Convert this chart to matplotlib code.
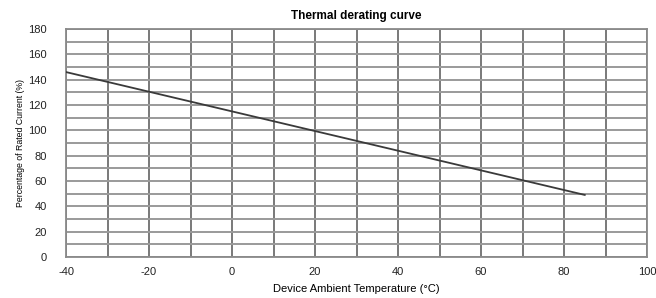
import matplotlib.pyplot as plt
import numpy as np

plt.rcParams['font.family'] = ['Liberation Sans', 'DejaVu Sans']
plt.rcParams['axes.unicode_minus'] = False

# thermal derating data
temp = [-40, 85]
percent = [146, 49]
xticks = [-40, -20, 0, 20, 40, 60, 80, 100]
yticks = [0, 20, 40, 60, 80, 100, 120, 140, 160, 180]

fig = plt.figure(figsize=(6.56, 2.98), dpi=100)
ax = fig.add_axes([66/656, 1-257/298, (647-66)/656, (257-29)/298])

ax.plot(temp, percent, color='#3a3a3a', linewidth=1.3, zorder=3)

ax.set_xlim(-40, 100)
ax.set_ylim(0, 180)
ax.set_xticks(xticks)
ax.set_yticks(yticks)
ax.set_xticks(np.arange(-40, 101, 10), minor=True)
ax.set_yticks(np.arange(0, 181, 10), minor=True)
ax.grid(True, axis='x', which='both', color='#6e6e6e', linewidth=1.3)
ax.grid(True, axis='y', which='both', color='#9a9a9a', linewidth=1.4)
ax.tick_params(which='both', length=0, labelsize=8, colors='#222222')
ax.tick_params(axis='x', pad=7)
ax.tick_params(axis='y', pad=14)
for s in ax.spines.values():
    s.set_color('#8a8a8a')
    s.set_linewidth(1.3)

ax.set_title('Thermal derating curve', fontsize=8.5, fontweight='bold', pad=7)
ax.set_xlabel('Device Ambient Temperature (°C)', fontsize=8, labelpad=5)
ax.set_ylabel('Percentage of Rated Current (%)', fontsize=6.3, labelpad=2)

fig.savefig('out.png', dpi=100)
